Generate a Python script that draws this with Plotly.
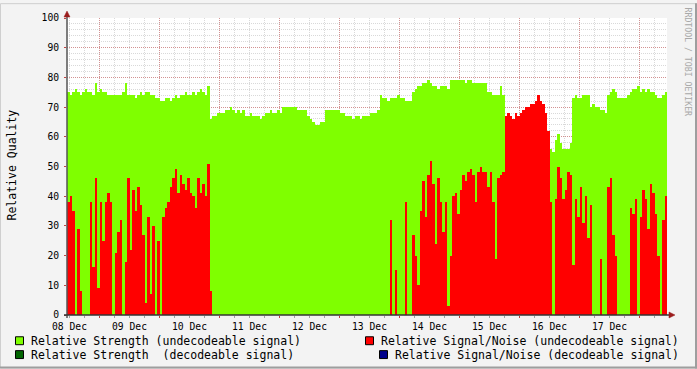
import pandas as pd
import plotly.graph_objects as go

# ---------------- data (hourly readings, 07 Dec 23:00 -> 17 Dec 23:00) ----------------
start_time = "2009-12-07 23:30"
n_hours = 240

strength_undecodeable = (
    [75,74,75,76,75,74,75,76,75,75,74,78,75,76,75,75,74,74,74,74,74,74,75,78]
    + [74,74,74,73,74,75,74,75,75,74,74,73,73,72,72,73,73,72,73,74,73,74,74,75]
    + [74,74,75,74,75,76,75,74,77,66,67,67,68,68,68,69,69,70,69,68,69,68,69,67]
    + [67,68,67,67,67,66,67,68,68,69,68,68,69,68,70,70,70,70,70,70,69,69,69,69]
    + [67,66,65,64,64,65,65,69,69,69,69,69,69,68,68,67,67,67,66,67,67,66,67,67]
    + [67,68,68,68,69,74,73,73,72,73,73,73,74,73,73,72,72,72,75,76,77,77,78,78]
    + [79,78,77,77,76,77,77,77,76,79,79,79,79,79,79,78,79,79,78,78,78,78,78,78]
    + [75,75,74,74,74,77,74,60,60,60,60,60,60,60,60,60,60,60,60,60,60,60,60,60]
    + [57,56,55,59,61,58,56,56,56,58,73,74,73,73,74,74,74,70,71,70,70,69,69,68]
    + [74,75,76,75,73,73,73,73,74,75,76,76,77,75,76,75,76,75,75,74,73,73,74,75]
)

snr_undecodeable = (
    [38,40,35,0,29,8,0,0,0,38,16,46,9,38,25,38,41,38,0,21,28,32,0,18]
    + [46,22,42,35,43,37,27,4,33,7,30,0,25,0,33,36,38,43,46,49,41,47,44,42,
       46,41,40,36,46,41,44,40,51,8,0,0]
    + [0] * 69
    + [32,0,15,0,0,0,38,0,0,27,20,10]
    + [35,45,33,47,52,44,24,46,38,28,38,3,20,40,41,34,42,47,45,48,49,47,38,48,
       50,48,48,43,48,38,19,46,47,48]
    + [67,68,67,66,68,67,68,69,70,70,71,71,72,74,72,71,68,62]
    + [38,0,39,50,46,39,42,48,47,17,39,33,43,31,40,26,37,0,0,0,19,0,0,43,46,27,
       20,0,0,0,0,0,36,34,39,0,33,42,39,29,44,41,34,20,0,32,40]
)

day_labels = ["08 Dec", "09 Dec", "10 Dec", "11 Dec", "12 Dec",
              "13 Dec", "14 Dec", "15 Dec", "16 Dec", "17 Dec"]
day_noons = ["2009-12-%02d 12:00" % d for d in range(8, 18)]
y_ticks = [0, 10, 20, 30, 40, 50, 60, 70, 80, 90, 100]

legend_items = [
    ("Relative Strength (undecodeable signal)", "#7FFF00"),
    ("Relative Strength\u00a0 (decodeable signal)", "#006400"),
    ("Relative Signal/Noise (undecodeable signal)", "#FF0000"),
    ("Relative Signal/Noise (decodeable signal)", "#00008B"),
]

assert len(strength_undecodeable) == n_hours
assert len(snr_undecodeable) == n_hours

times = pd.date_range(start_time, periods=n_hours, freq="h")

MONO = "DejaVu Sans Mono"
W, H = 697, 369
L, R, T, B = 67, 667, 15, 315


def px(x):
    return (x - L) / (R - L)


def py(y):
    return (B - y) / (B - T)


fig = go.Figure()
fig.add_trace(go.Bar(x=times, y=strength_undecodeable, width=3600000,
                     marker=dict(color="#7FFF00", line=dict(width=0)),
                     name=legend_items[0][0], showlegend=False))
fig.add_trace(go.Bar(x=times, y=snr_undecodeable, width=3600000,
                     marker=dict(color="#FF0000", line=dict(width=0)),
                     name=legend_items[2][0], showlegend=False))

major_grid = "rgba(205,60,60,0.45)"
minor_grid = "rgba(120,120,120,0.28)"

fig.update_layout(
    width=W, height=H,
    margin=dict(l=L, r=W - R, t=T, b=H - B, pad=0),
    paper_bgcolor="#F3F3F3", plot_bgcolor="#FFFFFF",
    barmode="overlay", bargap=0,
    showlegend=False,
    xaxis=dict(
        type="date",
        range=["2009-12-07 23:00", "2009-12-17 23:00"],
        tickvals=day_noons, ticktext=day_labels,
        ticklabelshift=-30,
        ticks="outside", ticklen=2, tickcolor="#C04040",
        tickfont=dict(family=MONO, size=9.7, color="#000000"),
        showgrid=True, gridcolor=major_grid, griddash="1px,1px", gridwidth=1,
        minor=dict(dtick=6 * 3600 * 1000, tick0="2009-12-08 00:00",
                   showgrid=True, gridcolor=minor_grid, griddash="1px,1px",
                   ticks="outside", ticklen=2, tickcolor="#A0A0A0"),
        zeroline=False, showline=False, layer="above traces", fixedrange=True,
    ),
    yaxis=dict(
        range=[0, 100], tickvals=y_ticks,
        ticks="outside", ticklen=2, tickcolor="#C04040",
        tickfont=dict(family=MONO, size=9.7, color="#000000"),
        ticklabelstandoff=3,
        showgrid=True, gridcolor=major_grid, griddash="1px,1px", gridwidth=1,
        minor=dict(dtick=2, tick0=0, showgrid=True, gridcolor=minor_grid,
                   griddash="1px,1px"),
        zeroline=False, showline=False, layer="above traces", fixedrange=True,
    ),
)

shapes = []
# image frame (light top/left, dark bottom/right)
shapes.append(dict(type="rect", xref="paper", yref="paper",
                   x0=px(0.5), x1=px(W - 0.5), y0=py(H - 0.5), y1=py(0.5),
                   line=dict(color="#CFCFCF", width=1), fillcolor="rgba(0,0,0,0)", layer="below"))
shapes.append(dict(type="line", xref="paper", yref="paper",
                   x0=px(0), x1=px(W), y0=py(H - 1), y1=py(H - 1),
                   line=dict(color="#9E9E9E", width=2)))
shapes.append(dict(type="line", xref="paper", yref="paper",
                   x0=px(W - 1), x1=px(W - 1), y0=py(0), y1=py(H),
                   line=dict(color="#9E9E9E", width=2)))
# axes
shapes.append(dict(type="line", xref="paper", yref="paper",
                   x0=px(L), x1=px(L), y0=py(B + 3), y1=py(11),
                   line=dict(color="#555555", width=1.5)))
shapes.append(dict(type="line", xref="paper", yref="paper",
                   x0=px(L - 3), x1=px(671), y0=py(B), y1=py(B),
                   line=dict(color="#333333", width=1.5)))
# arrows
shapes.append(dict(type="path", xref="paper", yref="paper",
                   path="M %f %f L %f %f L %f %f Z" % (px(L - 3), py(14), px(L + 3), py(14), px(L), py(8)),
                   line=dict(color="#9B1C1C", width=0.5), fillcolor="#9B1C1C"))
shapes.append(dict(type="path", xref="paper", yref="paper",
                   path="M %f %f L %f %f L %f %f Z" % (px(669), py(B - 3), px(669), py(B + 3), px(675), py(B)),
                   line=dict(color="#9B1C1C", width=0.5), fillcolor="#9B1C1C"))

annotations = []
# legend (two columns)
legend_pos = [(15, 341, 30), (15, 355, 30), (365, 341, 380), (379, 355, 394)]
for (label, color), (sx, cy, tx) in zip(legend_items, legend_pos):
    shapes.append(dict(type="rect", xref="paper", yref="paper",
                       x0=px(sx + 0.5), x1=px(sx + 8.5), y0=py(cy + 4), y1=py(cy - 4),
                       line=dict(color="#000000", width=1), fillcolor=color))
    annotations.append(dict(xref="paper", yref="paper", x=px(tx), y=py(cy),
                            xanchor="left", yanchor="middle", showarrow=False,
                            text=label, borderpad=0,
                            font=dict(family=MONO, size=11.5, color="#000000")))

# y-axis title
annotations.append(dict(xref="paper", yref="paper", x=px(12), y=py(164),
                        xanchor="center", yanchor="middle", showarrow=False,
                        text="Relative Quality", textangle=-90,
                        font=dict(family=MONO, size=11.5, color="#000000")))
# watermark
annotations.append(dict(xref="paper", yref="paper", x=px(688), y=py(59),
                        xanchor="center", yanchor="middle", showarrow=False,
                        text="RRDTOOL / TOBI OETIKER", textangle=90,
                        font=dict(family=MONO, size=8.2, color="#A8A8A8")))

fig.update_layout(shapes=shapes, annotations=annotations)
fig.write_html("out.html")
